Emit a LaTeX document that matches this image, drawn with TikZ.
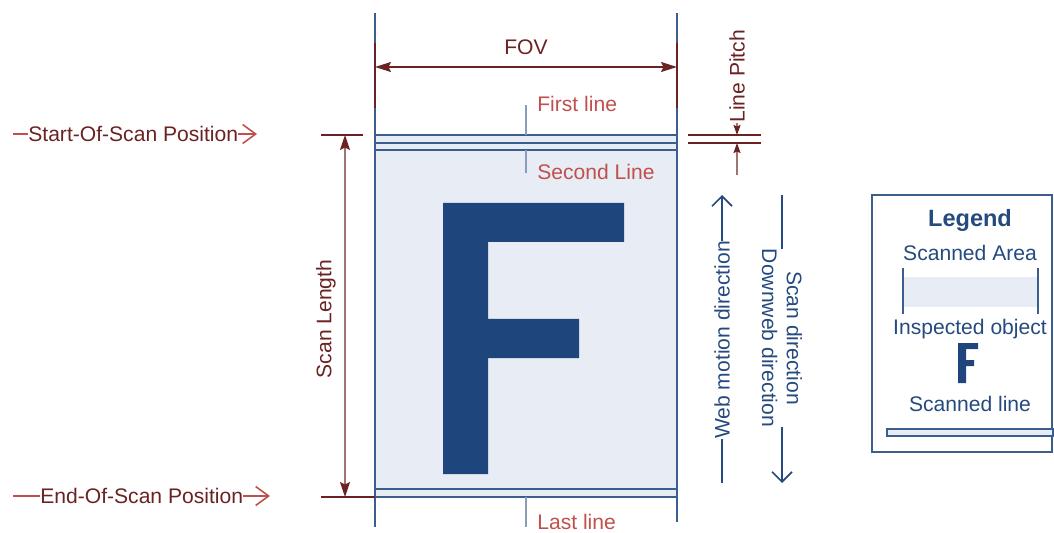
\documentclass[tikz,border=0pt]{standalone}
\usepackage{fontspec}
\setmainfont{Liberation Sans}
\usepackage{xcolor}
\usepackage{tikz}
\usetikzlibrary{positioning, arrows.meta}

\definecolor{lineblue}{HTML}{3A5F8E}
\definecolor{tickblue}{HTML}{8A9DBA}
\definecolor{keyblue}{HTML}{244A7E}
\definecolor{objblue}{HTML}{1F467C}
\definecolor{areafill}{HTML}{E8EDF5}
\definecolor{dimred}{HTML}{6B2222}
\definecolor{shaftred}{HTML}{A07470}
\definecolor{labred}{HTML}{C0504D}

\begin{document}
\begin{tikzpicture}[
    x = 0.02cm, y = -0.02cm,
    lbl/.style      = {font=\fontsize{12}{14.2}\selectfont, inner sep=0pt},
    redlbl/.style   = {lbl, text=labred},
    dimlbl/.style   = {lbl, text=dimred},
    keylbl/.style   = {lbl, text=keyblue},
    border/.style   = {draw=lineblue, line width=1.2pt},
    scanline/.style = {border, fill=areafill},
    tick/.style     = {draw=tickblue, line width=0.9pt},
    dimline/.style  = {dimred, line width=0.9pt},
    dimarr/.style   = {dimred, line width=0.9pt,
                       {Stealth[length=3.2mm, width=2mm, inset=0.5mm]}-{Stealth[length=3.2mm, width=2mm, inset=0.5mm]}},
    lenarr/.style   = {shaftred, line width=0.9pt,
                       {Stealth[length=3mm, width=2mm, inset=0.5mm, color=dimred]}-{Stealth[length=3mm, width=2mm, inset=0.5mm, color=dimred]}},
    pitcharr/.style = {shaftred, line width=0.9pt,
                       -{Stealth[length=2mm, width=1.4mm, inset=0.3mm, color=dimred]}},
    posarr/.style   = {labred, line width=0.9pt, -{Straight Barb[length=2.6mm, width=3.8mm]}},
    dirarr/.style   = {keyblue, line width=1pt, -{Straight Barb[length=2mm, width=4mm]}}
]
\useasboundingbox (0,0) rectangle (1054,533);

% Scanned area and object
\fill[areafill] (375,135) rectangle (677,497);
\fill[objblue] (443,203) -- (624,203) -- (624,242) -- (488,242) -- (488,319)
    -- (579,319) -- (579,358) -- (488,358) -- (488,474) -- (443,474) -- cycle;

% Scan lines
\draw[scanline] (375,135) rectangle (677,143);
\draw[scanline] (375,143) rectangle (677,150);
\draw[scanline] (375,489) rectangle (677,497);

% FOV borders
\draw[border] (375,13) -- (375,527);
\draw[border] (677,13) -- (677,522);
\draw[dimred, line width=1.2pt] (375,43) -- (375,108);
\draw[dimred, line width=1.2pt] (677,43) -- (677,108);

% FOV dimension
\coordinate (fovL) at (375,67);
\coordinate (fovR) at (677,67);
\node[dimlbl] (fov) at (526,47) {FOV};
\draw[dimarr] (fovL) -- (fovR);

% Line labels
\coordinate (firstA)  at (526,105);
\coordinate (firstB)  at (526,135);
\coordinate (secondA) at (526,150);
\coordinate (secondB) at (526,173);
\coordinate (lastA)   at (526,497);
\coordinate (lastB)   at (526,527);
\draw[tick] (firstA) -- (firstB);
\draw[tick] (secondA) -- (secondB);
\draw[tick] (lastA) -- (lastB);
\node[redlbl, anchor=west] (first)  at (537,104) {First line};
\node[redlbl, anchor=west] (second) at (537,172) {Second Line};
\node[redlbl, anchor=west] (last)   at (537,522) {Last line};

% Scan positions
\coordinate (sosStart) at (13,134);
\coordinate (sosTip)   at (257,134);
\coordinate (eosStart) at (13,496);
\coordinate (eosTip)   at (270,496);
\node[dimlbl, anchor=west] (sos) at (28,134) {Start-Of-Scan Position};
\node[dimlbl, anchor=west] (eos) at (40,496) {End-Of-Scan Position};
\draw[labred, line width=0.9pt] (sosStart) -- (sos.west);
\draw[posarr] (sos.east) -- (sosTip);
\draw[labred, line width=0.9pt] (eosStart) -- (eos.west);
\draw[posarr] (eos.east) -- (eosTip);

% Scan length
\draw[dimline] (321,135) -- (363,135);
\draw[dimline] (321,497) -- (375,497);
\coordinate (lenTop) at (345,135);
\coordinate (lenBot) at (345,497);
\draw[lenarr] (lenTop) -- (lenBot);
\node[dimlbl, rotate=90] (scanlen) at (326,319) {Scan Length};

% Line pitch
\draw[dimline] (688,135) -- (761,135);
\draw[dimline] (688,143) -- (761,143);
\node[dimlbl, rotate=90, anchor=west] (pitch) at (737,123) {Line Pitch};
\coordinate (pitchTop) at (737,135);
\coordinate (pitchBot) at (737,143);
\coordinate (pitchEnd) at (737,175);
\draw[pitcharr] (pitch.west) -- (pitchTop);
\draw[pitcharr] (pitchEnd) -- (pitchBot);

% Directions
\coordinate (webTop) at (722,195);
\coordinate (webBot) at (722,483);
\node[keylbl, rotate=90] (web) at (722,340) {Web motion direction};
\draw[keyblue, line width=1pt] (webBot) -- (web.west);
\draw[dirarr] (web.east) -- (webTop);

\coordinate (dirTop) at (782,195);
\coordinate (dirBot) at (782,483);
\node[keylbl, rotate=-90, align=center] (scandir) at (782,338)
    {Scan direction\\Downweb direction};
\draw[keyblue, line width=1pt] (dirTop) -- (scandir.west);
\draw[dirarr] (scandir.east) -- (dirBot);

% Legend
\draw[border] (872,195) rectangle (1052,452);
\node[keylbl, font=\fontsize{13.4}{15}\selectfont\bfseries] (legend) at (970,220) {Legend};
\node[keylbl] (keyarea) at (970,253) {Scanned Area};
\fill[areafill] (904,277) rectangle (1038,307);
\draw[lineblue, line width=0.6pt] (903,268) -- (903,314);
\draw[lineblue, line width=0.6pt] (1038,268) -- (1038,314);
\node[keylbl] (keyobj) at (970,329) {Inspected object};
\fill[objblue] (958,343) -- (978,343) -- (978,349) -- (966,349) -- (966,360)
    -- (974,360) -- (974,366) -- (966,366) -- (966,383) -- (958,383) -- cycle;
\node[keylbl] (keyline) at (970,404) {Scanned line};
\draw[scanline] (887,429) rectangle (1053,436);
\end{tikzpicture}
\end{document}
